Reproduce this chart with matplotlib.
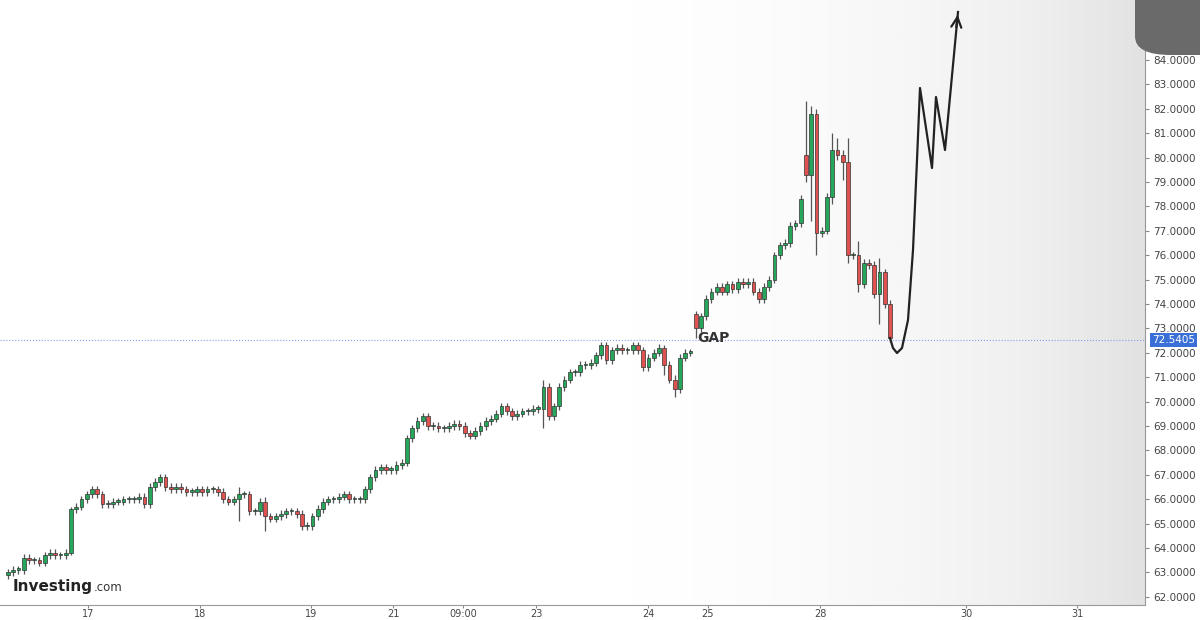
import numpy as np
import matplotlib.pyplot as plt
from matplotlib.patches import FancyBboxPatch

# closes per candle
closes = [63.0, 63.1, 63.1, 63.6, 63.5, 63.5, 63.4, 63.7, 63.8, 63.7, 63.7, 63.8,
          65.6, 65.7, 66.0, 66.2, 66.4, 66.2, 65.8, 65.8, 65.9, 65.9, 66.0, 66.0,
          66.0, 66.1, 65.8, 66.5, 66.7, 66.9, 66.5, 66.4, 66.5, 66.4, 66.3, 66.3,
          66.4, 66.3, 66.4, 66.4, 66.3, 66.0, 65.9, 66.0, 66.2, 66.2, 65.5, 65.5,
          65.9, 65.3, 65.2, 65.3, 65.4, 65.5, 65.5, 65.4, 64.9, 64.9, 65.3, 65.6,
          65.9, 66.0, 66.0, 66.1, 66.2, 66.0, 66.0, 66.0, 66.4, 66.9, 67.2, 67.3,
          67.2, 67.2, 67.4, 67.5, 68.5, 68.9, 69.2, 69.4, 69.0, 69.0, 68.9, 68.9,
          69.0, 69.1, 69.0, 68.7, 68.6, 68.8, 69.0, 69.2, 69.3, 69.5, 69.8, 69.6,
          69.4, 69.5, 69.6, 69.6, 69.7, 69.7, 70.6, 69.4, 69.8, 70.6, 70.9, 71.2,
          71.2, 71.5, 71.5, 71.6, 71.9, 72.3, 71.7, 72.1, 72.2, 72.1, 72.1, 72.3,
          72.1, 71.4, 71.8, 72.0, 72.2, 71.5, 70.9, 70.5, 71.8, 72.0, 72.0,
          73.0, 73.5, 74.2, 74.5, 74.7, 74.5, 74.8, 74.6, 74.9, 74.8, 74.9, 74.5,
          74.2, 74.7, 75.0, 76.0, 76.4, 76.5, 77.2, 77.3, 78.3, 79.3, 81.8, 76.9,
          77.0, 78.4, 80.3, 80.1, 79.8, 76.0, 76.0, 74.8, 75.7, 75.6, 74.4, 75.3,
          74.0, 72.6]
# opens that do not simply follow the previous close (gaps)
gap_opens = {12: 63.8, 131: 73.6, 152: 80.1}
# extra wick lengths (above, below) for the long shadows
wicks = {12: (0.1, 0.1), 44: (0.3, 0.9), 49: (0.2, 0.6), 102: (0.3, 0.8),
         125: (0.1, 0.4), 127: (0.2, 0.3), 131: (0.1, 0.4), 152: (2.2, 0.3),
         153: (0.3, 1.9), 154: (0.2, 0.9), 157: (0.7, 0.3), 158: (0.5, 0.2),
         159: (0.2, 0.7), 160: (1.0, 0.3), 162: (0.6, 0.3), 166: (0.6, 1.2)}

last_price = 72.5405
y_ticks = np.arange(62, 85, 1)
day_labels = ['17', '18', '19', '21', '09:00', '23', '24', '25', '28', '30', '31']
day_px = [88, 200, 311, 393, 463, 536, 648, 708, 820, 966, 1077]

n = len(closes)
sp = 882 / (n - 1)
def px2i(px):
    return (px - 8) / sp

fig = plt.figure(figsize=(12, 6.2), dpi=100)
ax = fig.add_axes([0, 1 - 605 / 620, 1145 / 1200, 605 / 620])
ylo = 84 - 545 / 24.4
yhi = 84 + 60 / 24.4
ax.set_xlim(px2i(0), px2i(1145))
ax.set_ylim(ylo, yhi)

# grey gradient on the right
grad = np.linspace(0, 1, 256) ** 2.0
ax.imshow(np.tile(grad, (2, 1)), extent=[px2i(550), px2i(1145), ylo, yhi],
          cmap='Greys', vmin=0, vmax=5.0, aspect='auto', zorder=0)

green, red = '#26a65b', '#e0524f'
for i, c in enumerate(closes):
    o = gap_opens.get(i, closes[i - 1] if i > 0 else 62.9)
    up, dn = wicks.get(i, (0.15, 0.15))
    hi, lo = max(o, c) + up, min(o, c) - dn
    col = green if c >= o else red
    ax.vlines(i, lo, hi, color='#555555', lw=0.9, zorder=2)
    h = max(abs(c - o), 0.06)
    ax.bar(i, h, bottom=min(o, c), width=0.7, color=col, edgecolor='#333333',
           lw=0.5, zorder=3)

ax.axhline(last_price, color='#8899ee', lw=0.8, ls=':', zorder=1)

# hand drawn forecast
pts_px = [(890, 338), (893, 348), (897, 353), (902, 348), (908, 320), (913, 250),
          (917, 160), (920, 88), (932, 168), (936, 97), (945, 150), (958, 12)]
xs = [px2i(p[0]) for p in pts_px]
ys = [84 - (p[1] - 60) / 24.4 for p in pts_px]
ax.plot(xs, ys, color='#222222', lw=1.6, zorder=4)
ax.annotate('', xy=(xs[-1], ys[-1]), xytext=(px2i(956), 84 - (30 - 60) / 24.4),
            arrowprops=dict(arrowstyle='->', color='#222222', lw=1.6,
                            mutation_scale=18))

ax.text(px2i(697), 72.3, 'GAP', fontsize=10, fontweight='bold',
        color='#333333', va='bottom', zorder=5)

ax.yaxis.tick_right()
ax.set_yticks(y_ticks)
ax.set_yticklabels(['%.4f' % v for v in y_ticks], fontsize=7.5, color='#444444')
ax.tick_params(axis='y', length=3, pad=3, colors='#888888', labelcolor='#444444')
ax.set_xticks([px2i(p) for p in day_px])
ax.set_xticklabels(day_labels, fontsize=7, color='#444444')
ax.tick_params(axis='x', length=2, pad=1, colors='#888888', labelcolor='#444444')
for s in ['top', 'left']:
    ax.spines[s].set_visible(False)
ax.spines['right'].set_color('#999999')
ax.spines['bottom'].set_color('#999999')

ax.text(1.006, (last_price - ylo) / (yhi - ylo), '%.4f' % last_price,
        transform=ax.transAxes, fontsize=7.5, color='white', va='center',
        bbox=dict(boxstyle='square,pad=0.2', fc='#3b6fd8', ec='none'))

# logo: ".com" placed right after the bold word
logo = fig.text(13 / 1200, 1 - 591 / 620, 'Investing', fontsize=11,
                fontweight='bold', color='#222222', va='baseline')
fig.canvas.draw()
bb = logo.get_window_extent().transformed(fig.transFigure.inverted())
fig.text(bb.x1 + 1 / 1200, 1 - 591 / 620, '.com', fontsize=8.5,
         color='#333333', va='baseline')

# dark rounded tab top right
fig.patches.append(FancyBboxPatch((1135 / 1200, 1 - 55 / 620), 0.1, 0.15,
                                  boxstyle='round,pad=0,rounding_size=0.03',
                                  transform=fig.transFigure, fc='#6a6a6a',
                                  ec='none'))

fig.savefig('out.png', dpi=100)
